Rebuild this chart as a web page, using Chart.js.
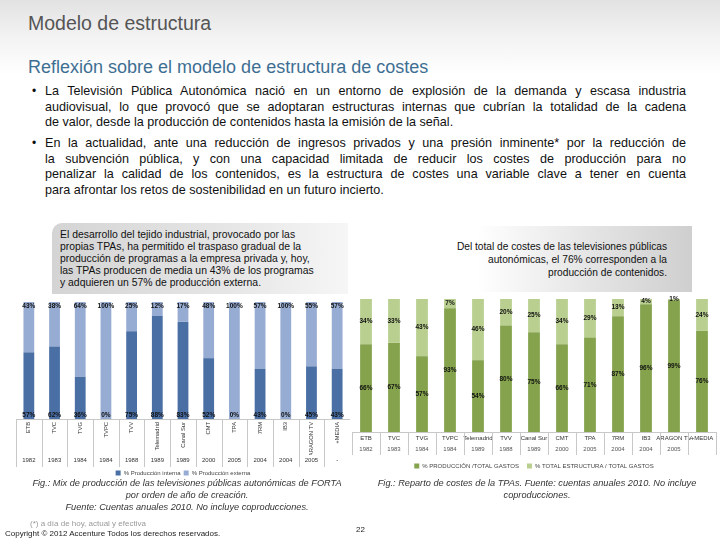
<!DOCTYPE html>
<html>
<head>
<meta charset="utf-8">
<script src="https://cdn.jsdelivr.net/npm/chart.js@4/dist/chart.umd.min.js"></script>
<style>
  html, body { margin: 0; padding: 0; }
  body {
    width: 720px; height: 540px; position: relative; overflow: hidden;
    font-family: "Liberation Sans", Arial, sans-serif; color: #111;
    background: linear-gradient(to bottom, #e2e2e2 0px, #f4f4f4 40px, #ffffff 75px, #ffffff 100%);
  }
  .abs { position: absolute; }
  #title { left: 28px; top: 12px; font-size: 19.5px; color: #555; }
  #subtitle { left: 28px; top: 57px; font-size: 18px; color: #3e6f93; }
  .para { left: 45px; width: 641px; font-size: 12.6px; line-height: 15.5px; }
  .para div { text-align: justify; text-align-last: justify; white-space: nowrap; }
  .para div.last { text-align-last: left; }
  .bullet { font-size: 12px; }
  #leftbox { left: 52px; top: 223px; width: 296px; height: 71px;
    background: linear-gradient(to right, #d4d4d4, #e6e6e6 60%, #f6f6f6);
    border-radius: 10px 0 0 0; }
  #lefttext { left: 60px; top: 229px; font-size: 10.4px; line-height: 12px; }
  #rightbox { left: 360px; top: 226px; width: 332px; height: 66px;
    background: linear-gradient(to right, rgba(255,255,255,0) 35%, #e4e4e4 70%, #cfcfcf 100%);
    border-radius: 60px 0 0 0; }
  #righttext { left: 380px; width: 287px; top: 240px; font-size: 10.2px; line-height: 13px; text-align: right; }
  .cap { font-size: 9.2px; font-style: italic; color: #333; text-align: center; line-height: 12px; white-space: nowrap; }
  #leftchart { left: 16px; top: 298px; }
  #rightchart { left: 351px; top: 295px; }
</style>
</head>
<body>
<div id="title" class="abs">Modelo de estructura</div>
<div id="subtitle" class="abs">Reflexión sobre el modelo de estructura de costes</div>

<div class="abs bullet" style="left:32px; top:84px;">•</div>
<div class="abs para" style="top:84px;">
  <div>La Televisión Pública Autonómica nació en un entorno de explosión de la demanda y escasa industria</div>
  <div>audiovisual, lo que provocó que se adoptaran estructuras internas que cubrían la totalidad de la cadena</div>
  <div class="last">de valor, desde la producción de contenidos hasta la emisión de la señal.</div>
</div>
<div class="abs bullet" style="left:32px; top:136px;">•</div>
<div class="abs para" style="top:136px;">
  <div>En la actualidad, ante una reducción de ingresos privados y una presión inminente* por la reducción de</div>
  <div>la subvención pública, y con una capacidad limitada de reducir los costes de producción para no</div>
  <div>penalizar la calidad de los contenidos, es la estructura de costes una variable clave a tener en cuenta</div>
  <div class="last">para afrontar los retos de sostenibilidad en un futuro incierto.</div>
</div>

<div id="leftbox" class="abs"></div>
<div id="lefttext" class="abs">El desarrollo del tejido industrial, provocado por las<br>propias TPAs, ha permitido el traspaso gradual de la<br>producción de programas a la empresa privada y, hoy,<br>las TPAs producen de media un 43% de los programas<br>y adquieren un 57% de producción externa.</div>

<div id="rightbox" class="abs"></div>
<div id="righttext" class="abs">Del total de costes de las televisiones públicas<br>autonómicas, el 76% corresponden a la<br>producción de contenidos.</div>

<div id="leftchart" class="abs"><canvas id="mix" width="334" height="188"></canvas></div>
<div id="rightchart" class="abs"><canvas id="costes" width="369" height="184"></canvas></div>

<div class="abs cap" style="left:17px; width:340px; top:477px;">Fig.: Mix de producción de las televisiones públicas autonómicas de FORTA<br>por orden de año de creación.<br>Fuente: Cuentas anuales 2010. No incluye coproducciones.</div>
<div class="abs cap" style="left:376px; width:322px; top:477px;">Fig.: Reparto de costes de la TPAs. Fuente: cuentas anuales 2010. No incluye<br>coproducciones.</div>

<div class="abs" style="left:30px; top:519px; font-size:8px; color:#999;">(*) a día de hoy, actual y efectiva</div>
<div class="abs" style="left:5px; top:529px; font-size:8px; color:#222;">Copyright © 2012 Accenture Todos los derechos reservados.</div>
<div class="abs" style="left:356px; top:525px; font-size:8px; color:#222;">22</div>

<script>
// Left chart: production mix of the regional public TVs, ordered by creation year
const mixChannels = ["ETB", "TVC", "TVG", "TVPC", "TVV", "Telemadrid", "Canal Sur", "CMT", "TPA", "7RM", "IB3", "ARAGON TV", "+MEDIA"];
const mixYears = ["1982", "1983", "1984", "1984", "1988", "1989", "1989", "2000", "2005", "2004", "2004", "2005", "-"];
const internalPct = [57, 62, 36, 0, 75, 88, 83, 52, 0, 43, 0, 45, 43];
const externalPct = [43, 38, 64, 100, 25, 12, 17, 48, 100, 57, 100, 55, 57];

// Right chart: cost split of the TPAs
const costChannels = ["ETB", "TVC", "TVG", "TVPC", "Telemadrid", "TVV", "Canal Sur", "CMT", "TPA", "7RM", "IB3", "ARAGON TV", "+MEDIA"];
const costYears = ["1982", "1983", "1984", "1984", "1989", "1988", "1989", "2000", "2005", "2004", "2004", "2005", ""];
const productionPct = [66, 67, 57, 93, 54, 80, 75, 66, 71, 87, 96, 99, 76];
const structurePct = [34, 33, 43, 7, 46, 20, 25, 34, 29, 13, 4, 1, 24];

Chart.defaults.font.family = '"Liberation Sans", Arial, sans-serif';
Chart.defaults.color = '#222';

// percentage labels on the bars
const valueLabels = {
    id: 'valueLabels',
    afterDatasetsDraw(chart, args, opts) {
        const ctx = chart.ctx;
        ctx.save();
        ctx.font = 'bold 6.5px "Liberation Sans", Arial, sans-serif';
        ctx.fillStyle = '#111';
        ctx.textAlign = 'center';
        chart.data.datasets.forEach((ds, di) => {
            chart.getDatasetMeta(di).data.forEach((bar, i) => {
                const txt = ds.data[i] + '%';
                if (opts.mode === 'ends') {
                    if (di === 0) {
                        ctx.textBaseline = 'bottom';
                        ctx.fillText(txt, bar.x, bar.base - 1);
                    } else {
                        ctx.textBaseline = 'top';
                        ctx.fillText(txt, bar.x, bar.y + 1);
                    }
                } else {
                    ctx.textBaseline = 'middle';
                    ctx.fillText(txt, bar.x, (bar.y + bar.base) / 2);
                }
            });
        });
        ctx.restore();
    }
};

// table-like separators under the bars
const tableLines = {
    id: 'tableLines',
    afterDraw(chart) {
        const ctx = chart.ctx;
        const x = chart.scales.x;
        const bottom = chart.scales.x2.bottom;
        const half = (x.getPixelForValue(1) - x.getPixelForValue(0)) / 2;
        ctx.save();
        ctx.strokeStyle = '#c8c8c8';
        ctx.lineWidth = 1;
        ctx.beginPath();
        for (let i = 0; i <= x.ticks.length; i++) {
            const px = Math.round(x.getPixelForValue(0) - half + i * 2 * half) + 0.5;
            ctx.moveTo(px, chart.chartArea.bottom);
            ctx.lineTo(px, bottom);
        }
        ctx.stroke();
        ctx.restore();
    }
};

const noGrid = {display: false, drawTicks: false, tickLength: 0};

new Chart(document.getElementById('mix'), {
    type: 'bar',
    data: {
        labels: mixChannels,
        datasets: [
            {label: '% Producción interna', data: internalPct, backgroundColor: '#4a6fa5', barPercentage: 0.42, categoryPercentage: 1},
            {label: '% Producción externa', data: externalPct, backgroundColor: '#97acd2', barPercentage: 0.42, categoryPercentage: 1}
        ]
    },
    options: {
        responsive: false,
        animation: false,
        layout: {padding: {top: 4, left: 0, right: 0, bottom: 0}},
        plugins: {
            tooltip: {enabled: false},
            valueLabels: {mode: 'ends'},
            legend: {
                position: 'bottom',
                labels: {boxWidth: 5, boxHeight: 5, padding: 3, font: {size: 6}, color: '#444'}
            }
        },
        scales: {
            x: {
                stacked: true,
                grid: noGrid,
                border: {color: '#c8c8c8'},
                ticks: {autoSkip: false, minRotation: 90, maxRotation: 90, padding: 3, font: {size: 5.8}, color: '#333'},
                afterFit: (s) => { s.height = 36; }
            },
            x2: {
                type: 'category',
                labels: mixYears,
                position: 'bottom',
                offset: true,
                grid: noGrid,
                border: {display: false},
                ticks: {autoSkip: false, maxRotation: 0, padding: 2, font: {size: 6}, color: '#333'},
                afterFit: (s) => { s.height = 12; }
            },
            y: {stacked: true, display: false, min: 0, max: 100}
        }
    },
    plugins: [valueLabels, tableLines]
});

new Chart(document.getElementById('costes'), {
    type: 'bar',
    data: {
        labels: costChannels,
        datasets: [
            {label: '% PRODUCCIÓN /TOTAL GASTOS', data: productionPct, backgroundColor: '#84a34c', barPercentage: 0.42, categoryPercentage: 1},
            {label: '% TOTAL ESTRUCTURA / TOTAL GASTOS', data: structurePct, backgroundColor: '#b9cf8f', barPercentage: 0.42, categoryPercentage: 1}
        ]
    },
    options: {
        responsive: false,
        animation: false,
        layout: {padding: {top: 4, left: 1, right: 4, bottom: 0}},
        plugins: {
            tooltip: {enabled: false},
            valueLabels: {mode: 'middle'},
            legend: {
                position: 'bottom',
                labels: {boxWidth: 5, boxHeight: 5, padding: 8, font: {size: 6}, color: '#444'}
            }
        },
        scales: {
            x: {
                stacked: true,
                grid: noGrid,
                border: {color: '#c8c8c8'},
                ticks: {autoSkip: false, maxRotation: 0, padding: 3, font: {size: 6}, color: '#333'},
                afterFit: (s) => { s.height = 13; }
            },
            x2: {
                type: 'category',
                labels: costYears,
                position: 'bottom',
                offset: true,
                grid: noGrid,
                border: {display: false},
                ticks: {autoSkip: false, maxRotation: 0, padding: 1, font: {size: 6}, color: '#555'},
                afterFit: (s) => { s.height = 10; }
            },
            y: {stacked: true, display: false, min: 0, max: 100}
        }
    },
    plugins: [valueLabels, tableLines]
});
</script>
</body>
</html>
